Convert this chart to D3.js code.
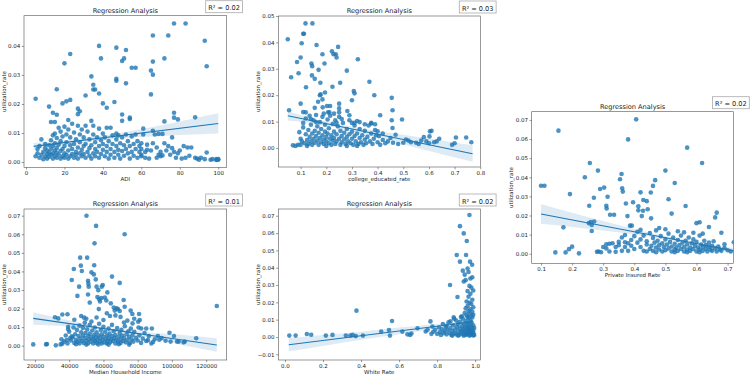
<!DOCTYPE html>
<html>
<head>
<meta charset="utf-8">
<script src="https://cdn.jsdelivr.net/npm/d3@7"></script>
<style>
  body { margin: 0; background: #fff; }
  svg { display: block; font-family: "DejaVu Sans", sans-serif; }
</style>
</head>
<body>
<svg id="chart" width="750" height="376"></svg>
<script>
// ---- data ----
const adiPoints = [
  [5,0.0218],[12,0.0191],[16,0.0251],[20,0.034],[23,0.0372],[38,0.040],[39,0.0357],[47,0.0394],[47,0.0287],[47,0.028],
  [52,0.0386],[50,0.0348],[51,0.0357],[55,0.0325],[57,0.0325],[52,0.0271],[65,0.0315],[66,0.0301],[66,0.0346],[66,0.0436],
  [74,0.0436],[72,0.0357],[77,0.0477],[83,0.0477],[93,0.0418],[94,0.033],[65,0.0233],[34,0.0295],[35,0.0266],[35,0.025],
  [36,0.025],[38,0.0236],[31,0.0229],[40,0.0202],[42,0.0187],[46,0.0207],[19,0.0202],[21,0.0209],[23,0.0214],[27,0.0184],
  [28,0.0175],[16,0.0163],[14,0.017],[50,0.0164],[54,0.0153],[77,0.017],[77,0.0153],[79,0.0147],[88,0.0154],[72,0.014],
  [61,0.0115],[66,0.0108],[69,0.0097],[71,0.0097],[76,0.0085],[84,0.005],[86,0.005],[80,0.004],[82,0.0055],[88,0.0015],
  [89,0.0012],[91,0.0015],[94,0.0033],[99,0.001],[100,0.001],[99,0.0007],[96,0.0008],[93,0.001],[74,0.0055],[73,0.004],
  [77,0.0035],[78,0.0015],[83,0.0015],[65,0.004],[68,0.0015],[70,0.002],[64,0.0012],[60,0.002],[62,0.0035],[70,0.0035],
  [71,0.0023],[60,0.0065],[63,0.006],
  [5,0.002],[6,0.003],[6,0.0045],[7,0.0015],[7,0.0055],[8,0.0025],[8,0.0078],[9,0.0035],[9,0.001],[10,0.002],
  [10,0.0048],[10,0.0062],[11,0.0028],[11,0.0012],[11,0.004],[12,0.0018],[12,0.0033],[12,0.0058],[13,0.0025],[13,0.0045],
  [13,0.0075],[13,0.0138],[14,0.0012],[14,0.003],[14,0.0055],[14,0.0092],[15,0.0022],[15,0.004],[15,0.0065],[15,0.0098],
  [15,0.0138],[16,0.0015],[16,0.0032],[16,0.0048],[16,0.0083],[17,0.0025],[17,0.006],[17,0.0118],[18,0.0012],[18,0.0038],
  [18,0.0072],[18,0.0105],[19,0.002],[19,0.0045],[19,0.0088],[20,0.0015],[20,0.003],[20,0.0055],[20,0.0122],[21,0.0025],
  [21,0.0068],[21,0.0095],[22,0.0012],[22,0.004],[22,0.0145],[22,0.0112],[23,0.002],[23,0.0058],[23,0.0085],[24,0.0028],
  [24,0.0045],[24,0.0132],[25,0.0015],[25,0.0062],[25,0.0102],[26,0.0035],[26,0.0078],[26,0.0025],[27,0.0012],[27,0.005],
  [27,0.0125],[27,0.0165],[28,0.003],[28,0.0068],[28,0.0095],[29,0.002],[29,0.0042],[29,0.0112],[30,0.0055],[30,0.0028],
  [30,0.0085],[31,0.0015],[31,0.0125],[31,0.0062],[32,0.0035],[32,0.0105],[33,0.0022],[33,0.0048],[33,0.0078],[34,0.0012],
  [34,0.0142],[34,0.0058],[35,0.003],[35,0.0125],[35,0.0095],[36,0.0045],[36,0.0068],[36,0.002],[37,0.0085],[37,0.0035],
  [38,0.0055],[38,0.0115],[38,0.0015],[39,0.0028],[39,0.0075],[40,0.0042],[40,0.0098],[40,0.0062],[41,0.002],[41,0.0085],
  [42,0.0118],[42,0.0035],[42,0.0055],[43,0.0012],[43,0.0072],[44,0.0118],[44,0.0045],[44,0.0025],[45,0.0062],[45,0.0092],
  [46,0.0035],[46,0.0015],[47,0.0098],[47,0.0055],[47,0.0078],[48,0.0042],[48,0.0025],[48,0.0092],[49,0.0065],[49,0.0012],
  [50,0.0085],[50,0.0038],[50,0.0142],[51,0.0058],[51,0.0022],[52,0.0095],[52,0.0045],[53,0.0072],[53,0.003],[54,0.0148],
  [54,0.0012],[54,0.0055],[55,0.0088],[55,0.0035],[56,0.0062],[56,0.0022],[57,0.0045],[57,0.0095],[58,0.0015],[58,0.0072],
  [59,0.0035],[59,0.0055],[60,0.0025],[60,0.0045],[61,0.0095],[62,0.0015],[63,0.0042],[66,0.0065],[67,0.0095],[68,0.005],
  [69,0.0025],[72,0.0065],[75,0.0025],[76,0.0048],[79,0.003],[81,0.0012],[85,0.0022],[90,0.0008],[97,0.001],[100,0.0008]
];
const collegePoints = [
  [0.05,0.0412],[0.119,0.0472],[0.146,0.0472],[0.11,0.0433],[0.113,0.0433],[0.104,0.0397],[0.162,0.039],[0.246,0.0383],
  [0.222,0.0366],[0.228,0.0355],[0.237,0.0355],[0.185,0.0355],[0.1,0.0343],[0.086,0.0326],[0.142,0.032],[0.145,0.031],
  [0.193,0.032],[0.24,0.0343],[0.323,0.0336],[0.17,0.0296],[0.28,0.0293],[0.092,0.0283],[0.144,0.0275],[0.155,0.0262],
  [0.063,0.0268],[0.177,0.0247],[0.254,0.0247],[0.368,0.0251],[0.121,0.023],[0.224,0.0232],[0.195,0.021],[0.307,0.0216],
  [0.31,0.0207],[0.387,0.02],[0.175,0.02],[0.178,0.0203],[0.185,0.0184],[0.3,0.0181],[0.455,0.019],[0.1,0.0168],
  [0.25,0.0168],[0.168,0.0175],[0.203,0.0159],[0.215,0.0159],[0.186,0.0154],[0.155,0.0152],[0.25,0.015],[0.458,0.0143],
  [0.11,0.0136],[0.282,0.014],[0.29,0.0124],[0.41,0.0124],[0.207,0.0135],[0.212,0.0135],[0.25,0.0135],[0.455,0.0105],
  [0.495,0.0108],[0.31,0.0095],[0.32,0.0102],[0.35,0.009],[0.375,0.0093],[0.39,0.009],[0.4,0.0063],[0.394,0.0048],
  [0.458,0.0076],[0.58,0.0041],[0.604,0.0063],[0.602,0.0044],[0.055,0.0143],[0.07,0.001],
  [0.5,0.002],[0.52,0.0028],[0.53,0.0022],[0.55,0.002],[0.57,0.0028],[0.6,0.0018],[0.61,0.0065],[0.62,0.0022],
  [0.63,0.0025],[0.64,0.0035],[0.69,0.0012],[0.7,0.0018],[0.705,0.004],[0.745,0.004],[0.765,0.0022],[0.46,0.002],
  [0.47,0.005],[0.48,0.0015],[0.44,0.0025],[0.42,0.003],[0.43,0.0018],[0.45,0.0038],[0.51,0.0032],[0.56,0.0015],[0.59,0.0025],
  [0.08,0.0008],[0.09,0.0012],[0.095,0.006],[0.1,0.0035],[0.1,0.0012],[0.105,0.0025],[0.11,0.0078],[0.11,0.0095],
  [0.115,0.0018],[0.12,0.0052],[0.12,0.0112],[0.125,0.003],[0.13,0.0068],[0.13,0.0015],[0.135,0.0042],[0.135,0.0122],
  [0.14,0.0025],[0.14,0.0088],[0.145,0.0055],[0.145,0.0012],[0.15,0.0035],[0.15,0.0105],[0.155,0.0065],[0.155,0.002],
  [0.16,0.0045],[0.16,0.0125],[0.165,0.0028],[0.165,0.0082],[0.17,0.0012],[0.17,0.0058],[0.175,0.0038],[0.175,0.0098],
  [0.18,0.0022],[0.18,0.0072],[0.185,0.0048],[0.185,0.0118],[0.19,0.0015],[0.19,0.0032],[0.195,0.0062],[0.195,0.0088],
  [0.2,0.0042],[0.2,0.0025],[0.205,0.0108],[0.205,0.0055],[0.21,0.0018],[0.21,0.0075],[0.215,0.0035],[0.215,0.0122],
  [0.22,0.0048],[0.22,0.0012],[0.225,0.0092],[0.225,0.0028],[0.23,0.0062],[0.23,0.0038],[0.235,0.0105],[0.235,0.0015],
  [0.24,0.0052],[0.24,0.0025],[0.245,0.0082],[0.25,0.0035],[0.25,0.0118],[0.255,0.0012],[0.255,0.0065],[0.26,0.0045],
  [0.26,0.0022],[0.265,0.0095],[0.27,0.0032],[0.27,0.0058],[0.275,0.0015],[0.28,0.0072],[0.28,0.0042],[0.285,0.0025],
  [0.29,0.0052],[0.29,0.0105],[0.295,0.0018],[0.3,0.0035],[0.3,0.0062],[0.305,0.0012],[0.31,0.0045],[0.31,0.0085],
  [0.315,0.0025],[0.32,0.0055],[0.325,0.0015],[0.33,0.0038],[0.33,0.0072],[0.335,0.0022],[0.34,0.0048],[0.345,0.0012],
  [0.35,0.0032],[0.35,0.0065],[0.355,0.0018],[0.36,0.0042],[0.365,0.0085],[0.37,0.0025],[0.375,0.0055],[0.38,0.0015],
  [0.385,0.0035],[0.39,0.0068],[0.4,0.0022],[0.405,0.0045],[0.41,0.0012],[0.42,0.0055],[0.125,0.0008],[0.2,0.0008],
  [0.28,0.0008],[0.32,0.0008],[0.16,0.0098],[0.24,0.0095],[0.26,0.011],[0.14,0.011],[0.12,0.0135],[0.19,0.013],
  [0.23,0.013],[0.3,0.0095],[0.33,0.0098],[0.375,0.0095]
];
const privatePoints = [
  [0.1,0.0356],[0.111,0.0356],[0.156,0.0644],[0.146,0.0007],[0.172,0.0138],[0.179,0.0007],[0.193,0.0312],[0.19,0.0024],
  [0.2,0.0037],[0.222,0.0002],[0.241,0.04],[0.255,0.0251],[0.257,0.0475],[0.254,0.016],[0.26,0.0166],[0.263,0.015],
  [0.263,0.0119],[0.27,0.0293],[0.271,0.0169],[0.283,0.0435],[0.28,0.001],[0.285,0.0012],[0.293,0.0008],[0.29,0.0339],
  [0.303,0.0346],[0.31,0.0251],[0.311,0.0237],[0.314,0.0298],[0.322,0.0204],[0.335,0.0204],[0.354,0.039],[0.359,0.0417],
  [0.361,0.0342],[0.363,0.0325],[0.373,0.0263],[0.378,0.0197],[0.386,0.0147],[0.392,0.0147],[0.38,0.0598],[0.396,0.0269],
  [0.406,0.0703],[0.413,0.0248],[0.413,0.0227],[0.424,0.0197],[0.42,0.0321],[0.429,0.0281],[0.467,0.0385],[0.46,0.0355],
  [0.453,0.032],[0.443,0.0233],[0.44,0.0275],[0.428,0.0225],[0.454,0.0185],[0.5,0.0435],[0.51,0.0285],[0.53,0.037],
  [0.52,0.021],[0.57,0.0555],[0.565,0.025],[0.618,0.0475],[0.61,0.0165],[0.6,0.016],[0.665,0.0215],[0.66,0.019],
  [0.64,0.014],[0.68,0.011],[0.72,0.006],[0.69,0.005],
  [0.3,0.0035],[0.31,0.005],[0.32,0.0052],[0.33,0.0055],[0.34,0.0035],[0.34,0.001],[0.35,0.0062],[0.35,0.0045],
  [0.36,0.0015],[0.36,0.0085],[0.37,0.0098],[0.37,0.0035],[0.38,0.0055],[0.38,0.0015],[0.39,0.0072],[0.39,0.0042],
  [0.4,0.0092],[0.4,0.0025],[0.41,0.0058],[0.41,0.0115],[0.42,0.0035],[0.42,0.0075],[0.43,0.0015],[0.43,0.0095],
  [0.44,0.0048],[0.44,0.0065],[0.45,0.0025],[0.45,0.0108],[0.455,0.0042],[0.46,0.0082],[0.46,0.0015],[0.465,0.0058],
  [0.47,0.0032],[0.47,0.0122],[0.475,0.0068],[0.48,0.0022],[0.48,0.0045],[0.485,0.0092],[0.49,0.0012],[0.49,0.0055],
  [0.495,0.0035],[0.5,0.0075],[0.5,0.0018],[0.505,0.0048],[0.51,0.0105],[0.51,0.0028],[0.515,0.0062],[0.52,0.0012],
  [0.52,0.0038],[0.525,0.0085],[0.53,0.0022],[0.53,0.0052],[0.535,0.0032],[0.54,0.0072],[0.54,0.0015],[0.545,0.0045],
  [0.55,0.0025],[0.55,0.0095],[0.555,0.0058],[0.56,0.0012],[0.56,0.0035],[0.565,0.0068],[0.57,0.0022],[0.57,0.0048],
  [0.575,0.0085],[0.58,0.0015],[0.58,0.0032],[0.585,0.0055],[0.59,0.0025],[0.59,0.0075],[0.595,0.0042],[0.6,0.0012],
  [0.6,0.0062],[0.605,0.0032],[0.61,0.0022],[0.61,0.0095],[0.615,0.0048],[0.62,0.0015],[0.62,0.0035],[0.625,0.0068],
  [0.63,0.0025],[0.63,0.0045],[0.635,0.0012],[0.64,0.0035],[0.64,0.0058],[0.645,0.0022],[0.65,0.0042],[0.65,0.0015],
  [0.655,0.0065],[0.66,0.0028],[0.665,0.0012],[0.67,0.0038],[0.675,0.0022],[0.68,0.0015],[0.69,0.003],[0.7,0.0018],
  [0.71,0.0012],[0.44,0.0012],[0.47,0.0008],[0.53,0.0008],[0.57,0.0008],[0.61,0.0008],[0.5,0.0128],[0.56,0.0112],
  [0.59,0.011],[0.62,0.0105],[0.54,0.0118],[0.48,0.0135],[0.42,0.0125],[0.37,0.006],[0.32,0.0012],[0.31,0.0028]
];
const incomePoints = [
  [19000,0.0007],[26500,0.0007],[27000,0.0009],[32200,0.0002],[31700,0.0153],[33600,0.0147],[35000,0.0007],[36000,0.0011],
  [39000,0.0169],[39400,0.0102],[39400,0.0088],[38500,0.003],[40500,0.004],[41500,0.005],[41500,0.0354],[42700,0.0413],
  [44800,0.0268],[45800,0.0318],[46400,0.0474],[46800,0.0431],[47400,0.0402],[48700,0.0151],[49100,0.0124],[50100,0.070],
  [50500,0.0474],[51000,0.035],[51200,0.0334],[51400,0.0318],[52000,0.0232],[51000,0.0276],[53000,0.0395],[54400,0.0384],
  [54600,0.0433],[54800,0.0551],[55700,0.0645],[55500,0.0357],[56000,0.0318],[57000,0.0299],[56500,0.0262],[57300,0.0197],
  [58000,0.0238],[58800,0.0257],[57500,0.025],[59000,0.0318],[59600,0.0327],[60800,0.0259],[61700,0.0243],[62300,0.0287],
  [64300,0.0228],[65000,0.0372],[66600,0.0189],[67600,0.0201],[68500,0.0197],[69500,0.0187],[69500,0.0338],[71800,0.0246],
  [72400,0.06],[72400,0.021],[75900,0.0189],[76900,0.0171],[80800,0.0171],[81200,0.0138],[80300,0.0129],[82100,0.0093],
  [85000,0.0093],[88300,0.0093],[91800,0.0052],[98600,0.007],[101200,0.0052],[104000,0.0022],[107500,0.0022],[114200,0.004],
  [126200,0.0214],[94000,0.0041],[92600,0.0032],[96300,0.0027],[99200,0.0022],[103000,0.0022],[106800,0.0018],[86000,0.003],
  [89000,0.002],[36000,0.0168],[43000,0.014],[47000,0.016],[50000,0.0145],[53000,0.013],[56000,0.0152],[60000,0.0138],
  [62000,0.0175],[63800,0.016],[66000,0.0205],[67000,0.0163],[70000,0.0155],[72000,0.0125],[74000,0.0135],[77000,0.012],
  [78000,0.0145],
  [35500,0.0035],[37000,0.0022],[38000,0.0055],[39000,0.0012],[40000,0.0075],[41000,0.0028],[42000,0.0045],[42500,0.0098],
  [43000,0.0015],[43500,0.0062],[44000,0.0032],[44500,0.0085],[45000,0.0022],[45500,0.0052],[46000,0.0108],[46000,0.0012],
  [46500,0.0038],[47000,0.0072],[47500,0.0025],[48000,0.0055],[48000,0.0095],[48500,0.0015],[49000,0.0042],[49500,0.0068],
  [50000,0.0028],[50500,0.0088],[51000,0.0012],[51000,0.0052],[51500,0.0035],[52000,0.0112],[52000,0.0065],[52500,0.0022],
  [53000,0.0045],[53500,0.0082],[54000,0.0012],[54000,0.0035],[54500,0.0058],[55000,0.0025],[55000,0.0098],[55500,0.0045],
  [56000,0.0015],[56000,0.0072],[56500,0.0032],[57000,0.0055],[57500,0.0118],[58000,0.0022],[58000,0.0042],[58500,0.0085],
  [59000,0.0012],[59000,0.0062],[59500,0.0032],[60000,0.0048],[60000,0.0102],[60500,0.0018],[61000,0.0075],[61500,0.0035],
  [62000,0.0055],[62000,0.0012],[62500,0.0025],[63000,0.0092],[63000,0.0042],[63500,0.0065],[64000,0.0018],[64500,0.0035],
  [65000,0.0052],[65000,0.0112],[65500,0.0025],[66000,0.0078],[66500,0.0042],[67000,0.0012],[67000,0.0058],[67500,0.0032],
  [68000,0.0095],[68500,0.0022],[69000,0.0048],[69500,0.0068],[70000,0.0015],[70000,0.0035],[70500,0.0085],[71000,0.0055],
  [71500,0.0025],[72000,0.0042],[72500,0.0105],[73000,0.0018],[73500,0.0062],[74000,0.0032],[74500,0.0078],[75000,0.0048],
  [75500,0.0015],[76000,0.0092],[76500,0.0035],[77000,0.0058],[77500,0.0022],[78000,0.0075],[79000,0.0042],[80000,0.0028],
  [80500,0.0098],[81000,0.0055],[82000,0.0015],[83000,0.0038],[84000,0.0068],[85000,0.0025],[86500,0.0052],[88000,0.0012],
  [90000,0.0035],[44000,0.0008],[50000,0.0006],[57000,0.0007],[63000,0.0006],[69000,0.0008],[75000,0.0006]
];
const whitePoints = [
  [0.023,0.0008],[0.056,0.0008],[0.115,0.0017],[0.138,0.0013],[0.215,0.0008],[0.25,0.0012],[0.32,0.0008],[0.344,0.0008],
  [0.356,0.0012],[0.372,0.0005],[0.376,0.0152],[0.41,0.0008],[0.506,0.0031],[0.552,0.0008],[0.563,0.0092],[0.547,0.004],
  [0.617,0.0031],[0.644,0.0015],[0.658,0.0012],[0.665,0.002],[0.697,0.005],[0.74,0.0032],[0.75,0.0042],[0.765,0.009],
  [0.775,0.006],[0.77,0.0018],[0.868,0.03],[0.887,0.0113],[0.903,0.0473],[0.907,0.0231],[0.92,0.0435],[0.92,0.064],
  [0.94,0.0598],[0.952,0.0473],[0.956,0.0554],[0.97,0.0704],[0.973,0.0435],[0.984,0.0417],[0.935,0.0383],[0.945,0.036],
  [0.96,0.0395],[0.965,0.0375],[0.975,0.0338],[0.985,0.0345],[0.94,0.032],[0.95,0.0328],[0.97,0.0295],[0.98,0.0285],
  [0.96,0.0265],[0.99,0.0268],[0.975,0.025],[0.965,0.0232],[0.985,0.0215],[0.955,0.0205],[0.97,0.0198],[0.98,0.019],
  [0.96,0.0178],[0.99,0.0172],[0.95,0.0165],[0.975,0.016],[0.965,0.015],[0.985,0.0145],[0.945,0.0138],[0.97,0.0135],
  [0.99,0.0128],[0.955,0.0125],[0.98,0.0122],[0.93,0.012],[0.96,0.0115],
  [0.78,0.003],[0.79,0.0042],[0.8,0.0018],[0.81,0.0055],[0.815,0.0028],[0.82,0.0012],[0.825,0.0045],[0.83,0.0075],
  [0.835,0.0022],[0.84,0.0035],[0.845,0.0058],[0.85,0.0015],[0.855,0.0042],[0.86,0.0085],[0.865,0.0025],[0.87,0.0052],
  [0.875,0.0012],[0.88,0.0035],[0.885,0.0068],[0.89,0.0022],[0.895,0.0045],[0.9,0.0095],[0.9,0.0015],[0.905,0.0058],
  [0.91,0.0032],[0.91,0.0075],[0.915,0.0012],[0.92,0.0048],[0.92,0.0088],[0.925,0.0025],[0.93,0.0062],[0.93,0.0035],
  [0.935,0.0015],[0.935,0.0105],[0.94,0.0045],[0.94,0.0078],[0.945,0.0025],[0.945,0.0058],[0.95,0.0012],[0.95,0.0038],
  [0.95,0.0092],[0.955,0.0065],[0.955,0.0022],[0.96,0.0048],[0.96,0.0082],[0.96,0.0015],[0.965,0.0035],[0.965,0.0108],
  [0.965,0.0058],[0.97,0.0025],[0.97,0.0072],[0.97,0.0045],[0.975,0.0012],[0.975,0.0095],[0.975,0.0038],[0.98,0.0062],
  [0.98,0.0028],[0.98,0.0085],[0.985,0.0048],[0.985,0.0015],[0.985,0.0112],[0.99,0.0035],[0.99,0.0068],[0.99,0.0022],
  [0.995,0.0052],[0.995,0.0012],[0.925,0.0115],[0.89,0.0105],[0.87,0.009],[0.85,0.0065],[0.88,0.0008],[0.91,0.0008],
  [0.94,0.0008],[0.97,0.0008],[0.99,0.0009]
];

// regression lines (endpoints) and confidence bands (knots)
const adiLineX = [4, 100], adiLineY = [0.0054, 0.0133];
const adiBandX = [4, 20, 35, 50, 65, 80, 100];
const adiBandLo = [0.0042, 0.0060, 0.0072, 0.0082, 0.0088, 0.0093, 0.0098];
const adiBandHi = [0.0066, 0.0074, 0.0087, 0.0102, 0.0120, 0.0140, 0.0168];

const collegeLineX = [0.05, 0.77], collegeLineY = [0.0122, -0.0022];
const collegeBandX = [0.05, 0.15, 0.25, 0.35, 0.45, 0.55, 0.65, 0.77];
const collegeBandLo = [0.0104, 0.0093, 0.0075, 0.0052, 0.0027, 0.0001, -0.0024, -0.0052];
const collegeBandHi = [0.0139, 0.0111, 0.0089, 0.0072, 0.0057, 0.0043, 0.0028, 0.0010];

const privateLineX = [0.1, 0.72], privateLineY = [0.0208, 0.0016];
const privateBandX = [0.1, 0.2, 0.3, 0.4, 0.5, 0.6, 0.72];
const privateBandLo = [0.0157, 0.0140, 0.0121, 0.0100, 0.0075, 0.0044, 0.0002];
const privateBandHi = [0.0260, 0.0214, 0.0171, 0.0130, 0.0093, 0.0062, 0.0030];

const incomeLineX = [19000, 126200], incomeLineY = [0.0147, 0.0004];
const incomeBandX = [19000, 35000, 50000, 60000, 75000, 90000, 105000, 126200];
const incomeBandLo = [0.0113, 0.0106, 0.0095, 0.0085, 0.0062, 0.0036, 0.0005, -0.0032];
const incomeBandHi = [0.0180, 0.0146, 0.0117, 0.0100, 0.0083, 0.0068, 0.0059, 0.0040];

const whiteLineX = [0.02, 0.99], whiteLineY = [-0.0045, 0.0088];
const whiteBandX = [0.02, 0.2, 0.4, 0.6, 0.8, 0.9, 0.99];
const whiteBandLo = [-0.0083, -0.0052, -0.0016, 0.0015, 0.0049, 0.0068, 0.0078];
const whiteBandHi = [-0.0008, 0.0011, 0.0030, 0.0054, 0.0075, 0.0083, 0.0097];

const r2Labels = ["R² = 0.02", "R² = 0.03", "R² = 0.02", "R² = 0.01", "R² = 0.02"];
const xLabels = ["ADI", "college_educated_rate", "Private Insured Rate", "Median Household Income", "White Rate"];
const adiTicks = [0, 20, 40, 60, 80, 100];
const collegeTicks = [0.1, 0.2, 0.3, 0.4, 0.5, 0.6, 0.7, 0.8];
const privateTicks = [0.1, 0.2, 0.3, 0.4, 0.5, 0.6, 0.7];
const incomeTicks = [20000, 40000, 60000, 80000, 100000, 120000];
const whiteTicks = [0, 0.2, 0.4, 0.6, 0.8, 1.0];
const utilTicks4 = [0, 0.01, 0.02, 0.03, 0.04];
const utilTicks5 = [0, 0.01, 0.02, 0.03, 0.04, 0.05];
const utilTicks7 = [0, 0.01, 0.02, 0.03, 0.04, 0.05, 0.06, 0.07];
const utilTicksNeg = [-0.01, 0, 0.01, 0.02, 0.03, 0.04, 0.05, 0.06, 0.07];

// ---- layout ----
const blue = "#1f77b4";
const fmt2 = d => d3.format(".2f")(d).replace("-", "\u2212");
const panels = [
  { pts: adiPoints, lineX: adiLineX, lineY: adiLineY, bandX: adiBandX, bandLo: adiBandLo, bandHi: adiBandHi,
    xTicks: adiTicks, yTicks: utilTicks4, xFmt: d3.format("d"), label: xLabels[0], r2: r2Labels[0],
    left: 24, right: 226.7, top: 15.7, bottom: 167.3, xDom: [-1.04, 104.4], yDom: [-0.0018, 0.0504] },
  { pts: collegePoints, lineX: collegeLineX, lineY: collegeLineY, bandX: collegeBandX, bandLo: collegeBandLo, bandHi: collegeBandHi,
    xTicks: collegeTicks, yTicks: utilTicks5, xFmt: d3.format(".1f"), label: xLabels[1], r2: r2Labels[1],
    left: 278.3, right: 480.3, top: 16, bottom: 167, xDom: [0.013, 0.80], yDom: [-0.0072, 0.050] },
  { pts: privatePoints, lineX: privateLineX, lineY: privateLineY, bandX: privateBandX, bandLo: privateBandLo, bandHi: privateBandHi,
    xTicks: privateTicks, yTicks: utilTicks7, xFmt: d3.format(".1f"), label: xLabels[2], r2: r2Labels[2],
    left: 531.7, right: 733.5, top: 111.7, bottom: 263.3, xDom: [0.070, 0.719], yDom: [-0.005, 0.0743] },
  { pts: incomePoints, lineX: incomeLineX, lineY: incomeLineY, bandX: incomeBandX, bandLo: incomeBandLo, bandHi: incomeBandHi,
    xTicks: incomeTicks, yTicks: utilTicks7, xFmt: d3.format("d"), label: xLabels[3], r2: r2Labels[3],
    left: 24, right: 226.7, top: 209, bottom: 360, xDom: [13600, 132000], yDom: [-0.0077, 0.0736] },
  { pts: whitePoints, lineX: whiteLineX, lineY: whiteLineY, bandX: whiteBandX, bandLo: whiteBandLo, bandHi: whiteBandHi,
    xTicks: whiteTicks, yTicks: utilTicksNeg, xFmt: d3.format(".1f"), label: xLabels[4], r2: r2Labels[4],
    left: 278.3, right: 480.3, top: 209, bottom: 360, xDom: [-0.035, 1.027], yDom: [-0.0133, 0.0739] }
];

const svg = d3.select("#chart");

panels.forEach((p, i) => {
  const x = d3.scaleLinear().domain(p.xDom).range([p.left, p.right]);
  const y = d3.scaleLinear().domain(p.yDom).range([p.bottom, p.top]);
  const g = svg.append("g");

  g.append("clipPath").attr("id", "clip" + i)
    .append("rect")
    .attr("x", p.left).attr("y", p.top)
    .attr("width", p.right - p.left).attr("height", p.bottom - p.top);
  const plot = g.append("g").attr("clip-path", `url(#clip${i})`);

  // scatter
  plot.selectAll("circle")
    .data(p.pts)
    .join("circle")
    .attr("cx", d => x(d[0]))
    .attr("cy", d => y(d[1]))
    .attr("r", 2.3)
    .attr("fill", blue)
    .attr("fill-opacity", 0.8);

  // confidence band
  const band = p.bandX.map((v, k) => ({ x: v, lo: p.bandLo[k], hi: p.bandHi[k] }));
  plot.append("path")
    .datum(band)
    .attr("d", d3.area().x(d => x(d.x)).y0(d => y(d.lo)).y1(d => y(d.hi)).curve(d3.curveMonotoneX))
    .attr("fill", blue)
    .attr("fill-opacity", 0.15);

  // regression line
  plot.append("line")
    .attr("x1", x(p.lineX[0])).attr("y1", y(p.lineY[0]))
    .attr("x2", x(p.lineX[1])).attr("y2", y(p.lineY[1]))
    .attr("stroke", blue)
    .attr("stroke-width", 1.1);

  // axes
  const xa = g.append("g")
    .attr("transform", `translate(0,${p.bottom})`)
    .call(d3.axisBottom(x).tickValues(p.xTicks).tickFormat(p.xFmt).tickSize(2.2).tickPadding(1.5));
  const ya = g.append("g")
    .attr("transform", `translate(${p.left},0)`)
    .call(d3.axisLeft(y).tickValues(p.yTicks).tickFormat(fmt2).tickSize(2.2).tickPadding(1.5));
  [xa, ya].forEach(a => {
    a.select(".domain").remove();
    a.selectAll(".tick line").attr("stroke", "#333").attr("stroke-width", 0.5);
    a.selectAll(".tick text").attr("fill", "#222").style("font-size", "5.5px")
      .style("font-family", "'DejaVu Sans', sans-serif");
  });

  // frame
  g.append("rect")
    .attr("x", p.left).attr("y", p.top)
    .attr("width", p.right - p.left).attr("height", p.bottom - p.top)
    .attr("fill", "none")
    .attr("stroke", "#555")
    .attr("stroke-width", 0.6);

  // labels
  const cx = (p.left + p.right) / 2;
  g.append("text")
    .attr("x", cx).attr("y", p.top - 2.6)
    .attr("text-anchor", "middle")
    .style("font-size", "6.6px")
    .attr("fill", "#222")
    .text("Regression Analysis");
  g.append("text")
    .attr("x", cx).attr("y", p.bottom + 14)
    .attr("text-anchor", "middle")
    .style("font-size", "5.5px")
    .attr("fill", "#222")
    .text(p.label);
  g.append("text")
    .attr("transform", `translate(${p.left - 18.5},${(p.top + p.bottom) / 2}) rotate(-90)`)
    .attr("text-anchor", "middle")
    .style("font-size", "5.5px")
    .attr("fill", "#222")
    .text("utilization_rate");

  // R² box
  const bx = g.append("g");
  const t = bx.append("text")
    .attr("x", p.right + 13.2).attr("y", p.top - 5.3)
    .attr("text-anchor", "end")
    .style("font-size", "6.6px")
    .attr("fill", "#222")
    .text(p.r2);
  const bb = t.node().getBBox();
  bx.insert("rect", "text")
    .attr("x", bb.x - 2.6).attr("y", p.top - 15)
    .attr("width", bb.width + 5.2).attr("height", 12)
    .attr("fill", "#fff")
    .attr("stroke", "#aaa")
    .attr("stroke-width", 0.8);
});
</script>
</body>
</html>
